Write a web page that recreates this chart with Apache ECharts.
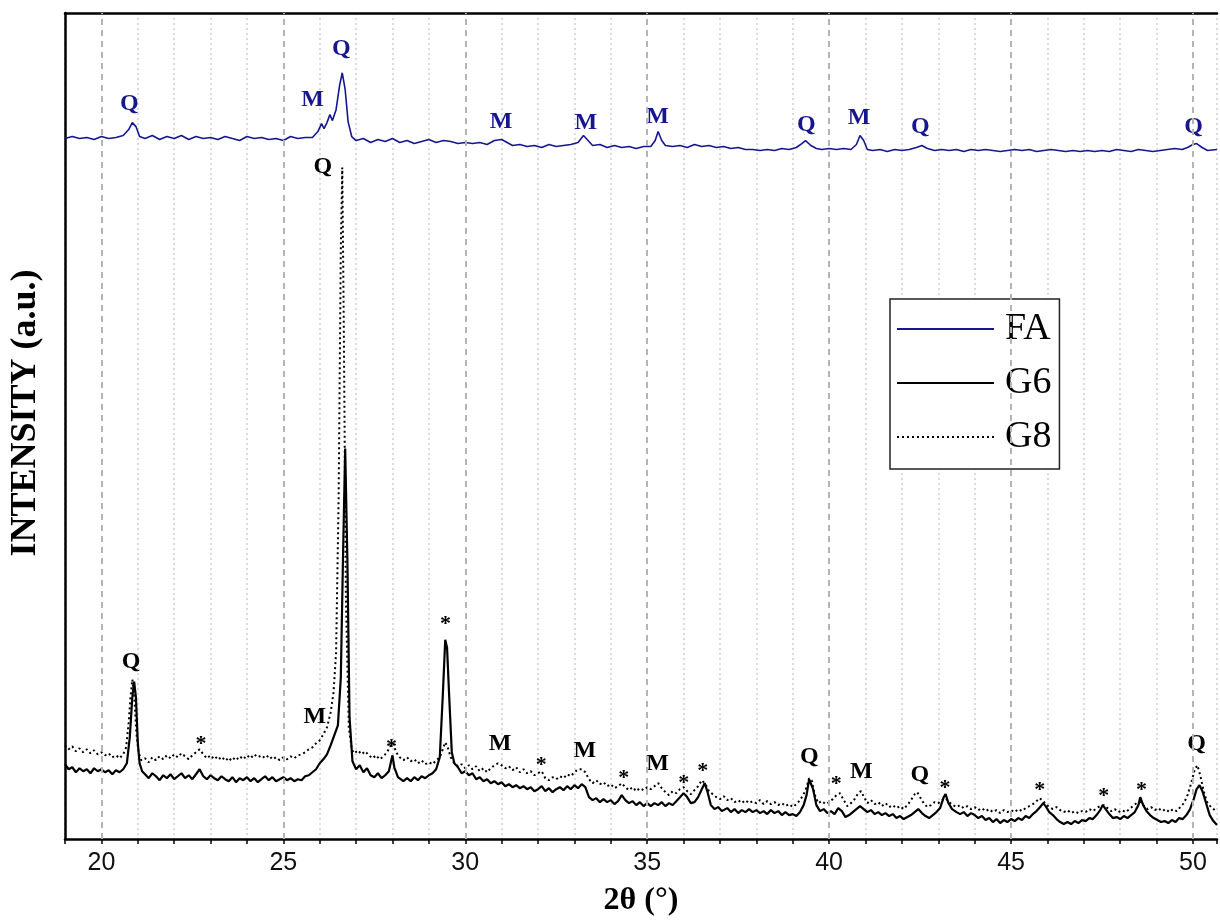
<!DOCTYPE html>
<html>
<head>
<meta charset="utf-8">
<style>
html,body{margin:0;padding:0;background:#fff;}
#chart{width:1220px;height:922px;}
</style>
<script src="https://cdn.jsdelivr.net/npm/echarts@6/dist/echarts.min.js"></script>
</head>
<body>
<div id="chart"></div>
<script>
// ---- Data (2θ in degrees, intensity in arbitrary units) ----
const majorTicks = [20, 25, 30, 35, 40, 45, 50];

const faData = [
[19.0,703],[19.2,705],[19.4,703],[19.6,704],[19.8,702],[20.0,705],[20.2,703],[20.4,704],[20.6,706],
[20.75,712],[20.85,719],[20.95,715],[21.05,705],[21.2,703],[21.4,706],[21.6,702],[21.8,705],[22.0,703],
[22.2,706],[22.4,702],[22.6,705],[22.8,703],[23.0,704],[23.2,702],[23.4,705],[23.6,703],[23.8,701],
[24.0,705],[24.2,703],[24.4,704],[24.6,702],[24.8,703],[25.0,701],[25.2,705],[25.4,703],[25.6,704],
[25.8,704],[25.95,710],[26.05,718],[26.12,713],[26.2,719],[26.28,727],[26.35,721],[26.45,732],
[26.55,757],[26.62,769],[26.7,752],[26.78,720],[26.88,705],[27.0,701],[27.2,703],[27.4,699],[27.6,702],
[27.8,700],[28.0,703],[28.2,699],[28.4,701],[28.6,698],[28.8,700],[29.0,702],[29.2,699],[29.4,701],
[29.6,700],[29.8,698],[30.0,699],[30.2,698],[30.4,699],[30.6,697],[30.8,701],[31.0,702],[31.15,699],
[31.3,696],[31.5,697],[31.7,695],[31.9,696],[32.1,694],[32.3,697],[32.5,695],[32.7,696],[32.9,697],
[33.1,699],[33.25,706],[33.35,702],[33.5,696],[33.7,697],[33.9,694],[34.1,696],[34.3,694],[34.5,695],
[34.7,693],[34.9,695],[35.1,695],[35.22,701],[35.3,710],[35.4,701],[35.5,696],[35.7,695],[35.9,696],
[36.1,694],[36.3,697],[36.5,695],[36.7,696],[36.9,694],[37.1,695],[37.3,693],[37.5,694],[37.7,692],
[37.9,692],[38.1,691],[38.3,692],[38.5,691],[38.7,693],[38.9,692],[39.1,694],[39.25,698],[39.35,701],
[39.5,696],[39.65,693],[39.8,692],[40.0,693],[40.2,692],[40.4,693],[40.6,692],[40.75,697],[40.85,706],
[40.95,701],[41.05,692],[41.2,691],[41.4,692],[41.6,690],[41.8,692],[42.0,691],[42.2,692],[42.4,694],
[42.55,696],[42.7,693],[42.9,691],[43.1,692],[43.3,691],[43.5,692],[43.7,690],[43.9,692],[44.1,691],
[44.3,692],[44.5,691],[44.7,690],[44.9,691],[45.1,692],[45.3,691],[45.5,692],[45.7,690],[45.9,691],
[46.1,692],[46.3,691],[46.5,690],[46.7,691],[46.9,690],[47.1,691],[47.3,690],[47.5,691],[47.7,690],
[47.9,692],[48.1,691],[48.3,690],[48.5,692],[48.7,691],[48.9,690],[49.1,691],[49.3,692],[49.5,693],
[49.7,692],[49.85,694],[50.0,697],[50.1,698],[50.25,694],[50.4,691],[50.66,692]
];

const g6Data = [
[19.0,75],[19.1,70],[19.2,72],[19.3,67],[19.4,71],[19.5,68],[19.6,70],[19.7,66],[19.8,71],[19.9,68],
[20.0,70],[20.1,67],[20.2,69],[20.3,65],[20.4,69],[20.5,67],[20.6,70],[20.7,76],[20.78,102],[20.85,142],
[20.9,158],[20.95,142],[21.0,97],[21.05,76],[21.12,68],[21.2,65],[21.3,61],[21.4,66],[21.5,63],[21.6,59],
[21.7,64],[21.8,61],[21.9,65],[22.0,60],[22.1,63],[22.2,66],[22.3,61],[22.4,64],[22.5,60],[22.6,65],
[22.7,70],[22.8,63],[22.9,60],[23.0,64],[23.1,61],[23.2,59],[23.3,63],[23.4,60],[23.5,58],[23.6,62],
[23.7,57],[23.8,61],[23.9,59],[24.0,62],[24.1,58],[24.2,61],[24.3,57],[24.4,60],[24.5,63],[24.6,59],
[24.7,62],[24.8,58],[24.9,60],[25.0,62],[25.1,59],[25.2,61],[25.3,58],[25.4,60],[25.5,59],[25.6,63],
[25.7,64],[25.8,67],[25.9,70],[26.0,76],[26.1,80],[26.2,85],[26.3,94],[26.4,104],[26.5,114],[26.58,162],
[26.64,282],[26.7,392],[26.76,282],[26.82,122],[26.9,78],[27.0,70],[27.1,74],[27.2,67],[27.3,71],
[27.4,64],[27.5,62],[27.6,66],[27.7,61],[27.8,64],[27.9,68],[28.0,84],[28.05,72],[28.15,62],[28.3,58],
[28.4,61],[28.5,58],[28.6,62],[28.7,59],[28.8,63],[28.9,61],[29.0,64],[29.1,66],[29.2,70],[29.3,82],
[29.38,142],[29.45,200],[29.5,192],[29.56,142],[29.63,87],[29.7,76],[29.8,72],[29.9,66],[30.0,68],
[30.1,64],[30.2,66],[30.3,60],[30.4,62],[30.5,58],[30.6,60],[30.7,56],[30.8,58],[30.9,55],[31.0,57],
[31.1,53],[31.2,55],[31.3,52],[31.4,54],[31.5,51],[31.6,53],[31.7,50],[31.8,52],[31.9,48],[32.0,50],
[32.1,53],[32.2,48],[32.3,51],[32.4,47],[32.5,50],[32.6,52],[32.7,49],[32.8,53],[32.9,50],[33.0,54],
[33.1,51],[33.2,55],[33.3,52],[33.4,42],[33.5,39],[33.6,41],[33.7,37],[33.8,40],[33.9,37],[34.0,39],
[34.1,35],[34.2,38],[34.3,44],[34.4,39],[34.5,36],[34.6,38],[34.7,34],[34.8,37],[34.9,33],[35.0,36],
[35.1,33],[35.2,36],[35.3,34],[35.4,37],[35.5,33],[35.6,36],[35.7,34],[35.8,38],[35.9,42],[36.0,46],
[36.08,43],[36.2,36],[36.3,37],[36.4,42],[36.5,50],[36.58,56],[36.66,47],[36.75,34],[36.85,30],
[36.95,32],[37.05,28],[37.2,31],[37.3,27],[37.4,30],[37.5,26],[37.6,29],[37.7,27],[37.8,30],[37.9,27],
[38.0,29],[38.1,26],[38.2,28],[38.3,25],[38.4,29],[38.5,26],[38.6,28],[38.7,24],[38.8,27],[38.9,24],
[39.0,25],[39.1,23],[39.2,27],[39.3,34],[39.38,44],[39.45,60],[39.5,62],[39.56,50],[39.65,34],
[39.75,28],[39.85,30],[39.95,26],[40.05,28],[40.15,25],[40.25,31],[40.35,28],[40.45,22],[40.55,24],
[40.65,27],[40.75,30],[40.85,33],[40.95,30],[41.05,27],[41.15,29],[41.25,25],[41.35,27],[41.45,24],
[41.55,26],[41.65,23],[41.75,25],[41.85,21],[41.95,23],[42.05,20],[42.15,22],[42.25,24],[42.35,27],
[42.45,30],[42.55,26],[42.65,23],[42.75,21],[42.85,24],[42.95,27],[43.05,31],[43.15,42],[43.2,45],
[43.28,36],[43.38,30],[43.5,27],[43.6,25],[43.7,27],[43.8,23],[43.9,26],[44.0,24],[44.1,21],[44.2,23],
[44.3,19],[44.4,21],[44.5,17],[44.6,20],[44.7,16],[44.8,19],[44.9,17],[45.0,20],[45.1,18],[45.2,21],
[45.3,19],[45.4,23],[45.5,21],[45.6,25],[45.7,28],[45.8,32],[45.88,36],[45.95,33],[46.05,27],[46.15,24],
[46.25,20],[46.35,17],[46.45,15],[46.55,17],[46.65,15],[46.75,18],[46.85,16],[46.95,19],[47.05,18],
[47.15,21],[47.25,20],[47.35,24],[47.45,29],[47.52,34],[47.6,30],[47.7,25],[47.8,21],[47.9,22],
[48.0,20],[48.1,23],[48.2,21],[48.3,24],[48.4,27],[48.5,34],[48.55,42],[48.62,35],[48.72,28],[48.82,24],
[48.92,21],[49.02,19],[49.12,17],[49.22,18],[49.32,16],[49.42,19],[49.52,17],[49.62,21],[49.72,20],
[49.82,24],[49.92,30],[50.02,40],[50.1,50],[50.18,54],[50.26,48],[50.36,36],[50.46,24],[50.56,18],
[50.66,14]
];

const g8Data = [
[19.0,94],[19.1,90],[19.2,93],[19.3,88],[19.4,91],[19.5,87],[19.6,90],[19.7,86],[19.8,89],[19.9,85],
[20.0,87],[20.1,84],[20.2,86],[20.3,82],[20.4,84],[20.5,81],[20.6,85],[20.68,92],[20.75,117],[20.8,142],
[20.85,160],[20.9,147],[20.96,107],[21.02,87],[21.1,79],[21.2,81],[21.3,77],[21.4,82],[21.5,79],
[21.6,83],[21.7,80],[21.8,84],[21.9,81],[22.0,85],[22.1,82],[22.2,86],[22.3,83],[22.4,80],[22.5,84],
[22.6,87],[22.7,90],[22.8,85],[22.9,81],[23.0,84],[23.1,80],[23.2,83],[23.3,79],[23.4,82],[23.5,78],
[23.6,82],[23.7,79],[23.8,83],[23.9,80],[24.0,84],[24.1,81],[24.2,85],[24.3,82],[24.4,84],[24.5,81],
[24.6,84],[24.7,80],[24.8,82],[24.9,79],[25.0,82],[25.1,80],[25.2,83],[25.3,81],[25.4,84],[25.5,85],
[25.6,87],[25.7,90],[25.8,92],[25.9,96],[26.0,99],[26.1,105],[26.2,112],[26.3,127],[26.38,147],
[26.45,187],[26.52,342],[26.58,592],[26.62,674],[26.66,522],[26.72,242],[26.8,112],[26.88,90],
[26.95,86],[27.05,89],[27.15,85],[27.25,88],[27.35,84],[27.45,81],[27.55,84],[27.65,80],[27.75,83],
[27.85,87],[27.95,94],[28.02,96],[28.1,87],[28.2,82],[28.3,79],[28.4,82],[28.5,78],[28.6,80],[28.7,76],
[28.8,79],[28.9,75],[29.0,77],[29.1,75],[29.2,79],[29.3,82],[29.38,90],[29.45,97],[29.52,92],[29.6,82],
[29.7,76],[29.8,73],[29.9,75],[30.0,71],[30.1,74],[30.2,70],[30.3,73],[30.4,68],[30.5,71],[30.6,67],
[30.7,71],[30.8,74],[30.9,76],[31.0,74],[31.1,71],[31.2,73],[31.3,69],[31.4,72],[31.5,67],[31.6,70],
[31.7,66],[31.8,68],[31.9,64],[32.0,66],[32.1,68],[32.2,61],[32.3,59],[32.4,62],[32.5,60],[32.6,63],
[32.7,61],[32.8,65],[32.9,63],[33.0,67],[33.1,70],[33.2,70],[33.3,67],[33.4,60],[33.5,56],[33.6,59],
[33.7,55],[33.8,57],[33.9,53],[34.0,55],[34.1,51],[34.2,53],[34.3,56],[34.4,52],[34.5,49],[34.6,52],
[34.7,48],[34.8,51],[34.9,49],[35.0,52],[35.1,50],[35.2,53],[35.3,56],[35.4,51],[35.5,47],[35.6,44],
[35.7,48],[35.8,46],[35.9,50],[36.0,52],[36.1,48],[36.2,45],[36.3,49],[36.4,53],[36.5,59],[36.6,55],
[36.7,48],[36.8,45],[36.9,42],[37.0,40],[37.1,43],[37.2,39],[37.3,41],[37.4,37],[37.5,39],[37.6,36],
[37.7,39],[37.8,36],[37.9,38],[38.0,36],[38.1,39],[38.2,35],[38.3,38],[38.4,35],[38.5,37],[38.6,34],
[38.7,36],[38.8,33],[38.9,35],[39.0,32],[39.1,35],[39.2,39],[39.3,45],[39.38,52],[39.45,61],[39.52,59],
[39.6,45],[39.7,36],[39.8,38],[39.9,35],[40.0,37],[40.1,40],[40.2,44],[40.3,46],[40.4,39],[40.5,33],
[40.6,36],[40.7,40],[40.8,46],[40.88,48],[40.96,42],[41.05,36],[41.15,39],[41.25,35],[41.35,37],
[41.45,33],[41.55,36],[41.65,32],[41.75,34],[41.85,31],[41.95,33],[42.05,30],[42.15,34],[42.25,39],
[42.35,45],[42.42,47],[42.5,42],[42.6,36],[42.7,32],[42.8,34],[42.9,37],[43.0,36],[43.1,39],[43.2,41],
[43.3,37],[43.4,34],[43.5,32],[43.6,34],[43.7,31],[43.8,33],[43.9,30],[44.0,32],[44.1,29],[44.2,31],
[44.3,28],[44.4,30],[44.5,27],[44.6,29],[44.7,26],[44.8,29],[44.9,27],[45.0,29],[45.1,27],[45.2,30],
[45.3,28],[45.4,31],[45.5,33],[45.6,35],[45.7,38],[45.78,41],[45.86,39],[45.95,35],[46.05,32],
[46.15,30],[46.25,32],[46.35,29],[46.45,27],[46.55,29],[46.65,26],[46.75,28],[46.85,26],[46.95,28],
[47.05,27],[47.15,30],[47.25,28],[47.35,31],[47.45,33],[47.55,34],[47.65,31],[47.75,28],[47.85,30],
[47.95,27],[48.05,29],[48.15,27],[48.25,30],[48.35,33],[48.45,36],[48.55,37],[48.65,33],[48.75,30],
[48.85,32],[48.95,29],[49.05,31],[49.15,28],[49.25,30],[49.35,27],[49.45,30],[49.55,28],[49.65,32],
[49.75,36],[49.85,44],[49.95,56],[50.05,70],[50.12,74],[50.2,64],[50.3,47],[50.4,36],[50.5,32],
[50.66,27]
];

// Phase labels: [2θ, intensity, text]
const faLabels = [
[20.78,737,'Q'],[25.82,741,'M'],[26.61,793,'Q'],[31.0,719,'M'],[33.33,718,'M'],[35.3,724,'M'],
[39.39,716,'Q'],[40.84,723,'M'],[42.52,714,'Q'],[50.03,714,'Q']
];
const gLabels = [
[26.1,674,'Q'],[20.83,177,'Q'],[25.88,122,'M'],[30.97,95,'M'],[33.3,88,'M'],[35.3,75,'M'],
[39.47,82,'Q'],[40.9,67,'M'],[42.51,64,'Q'],[50.11,95,'Q']
];
const starLabels = [
[22.75,100],[27.99,97],[29.47,220],[32.1,78],[34.37,65],[36.02,60],[36.54,72],[40.21,59],
[43.2,55],[45.8,53],[47.56,47],[48.6,53]
];

const X_MIN = 19, X_MAX = 50.66;
const BLUE = '#16168f';
const SERIF = "'Liberation Serif','Times New Roman',serif";

const chart = echarts.init(document.getElementById('chart'), null, {renderer: 'canvas'});

const toLabelItems = arr => arr.map(d => ({value: [d[0], d[1]], name: d[2] || '*'}));

const labelBase = {
  show: true, position: [0, 0], align: 'center', verticalAlign: 'middle',
  formatter: '{b}', fontFamily: SERIF, fontWeight: 'bold',
  textBorderWidth: 0, textShadowBlur: 0, opacity: 1
};

const option = {
  animation: false,
  backgroundColor: '#ffffff',
  grid: {left: 64, right: 0, top: 13, bottom: 80, containLabel: false},
  legend: {
    data: ['FA', 'G6', 'G8'],
    orient: 'vertical',
    left: 890, top: 299,
    padding: [11, 8, 13, 6],
    itemWidth: 97, itemHeight: 14, itemGap: 16,
    borderColor: '#222', borderWidth: 1.5,
    backgroundColor: '#fff',
    itemStyle: {opacity: 0, borderWidth: 0},
    textStyle: {fontFamily: SERIF, fontSize: 38, color: '#000', padding: [0, 0, 0, 6]}
  },
  xAxis: [{
    type: 'value', min: X_MIN, max: X_MAX, interval: 1,
    name: '2θ (°)', nameLocation: 'middle', nameGap: 46,
    nameTextStyle: {fontFamily: SERIF, fontWeight: 'bold', fontSize: 32, color: '#000'},
    axisLine: {show: true, onZero: false, lineStyle: {color: '#000', width: 2.5}},
    axisTick: {show: true, length: 5, lineStyle: {color: '#000', width: 1.5}},
    axisLabel: {
      margin: 12, fontFamily: "'Liberation Sans',Arial,sans-serif", fontSize: 25, color: '#111',
      showMinLabel: true, showMaxLabel: true,
      formatter: v => (Math.abs(v % 5) < 1e-6 ? String(v) : '')
    },
    splitLine: {show: true, lineStyle: {
      color: ['#cfcfcf', 'rgba(0,0,0,0)', '#cfcfcf', '#cfcfcf', '#cfcfcf'],
      width: 1.5, type: [2, 3]}}
  }, {
    type: 'value', min: X_MIN, max: X_MAX, position: 'top',
    axisLine: {show: true, onZero: false, lineStyle: {color: '#000', width: 2.5}},
    axisTick: {show: false}, axisLabel: {show: false}, splitLine: {show: false}
  }],
  yAxis: {
    type: 'value', min: 0, max: 829,
    name: 'INTENSITY (a.u.)', nameLocation: 'middle', nameGap: 21,
    nameTextStyle: {fontFamily: SERIF, fontWeight: 'bold', fontSize: 36, color: '#000', padding: [0, 0, 0, 26]},
    axisLine: {show: true, onZero: false, lineStyle: {color: '#000', width: 2.5}},
    axisTick: {show: false}, axisLabel: {show: false}, splitLine: {show: false}
  },
  series: [
    {
      name: 'G8', type: 'line', data: g8Data, showSymbol: false, symbol: 'none',
      lineStyle: {color: '#000', width: 2, type: [2, 3]}, itemStyle: {color: '#000'},
      markLine: {
        silent: true, symbol: ['none', 'none'], label: {show: false},
        lineStyle: {color: '#b4b4b4', width: 2, type: [6, 5]},
        data: majorTicks.map(v => ({xAxis: v}))
      }
    },
    {
      name: 'G6', type: 'line', data: g6Data, showSymbol: false, symbol: 'none',
      lineStyle: {color: '#000', width: 2.2}, itemStyle: {color: '#000'}
    },
    {
      name: 'FA', type: 'line', data: faData, showSymbol: false, symbol: 'none',
      lineStyle: {color: BLUE, width: 1.6}, itemStyle: {color: BLUE}
    },
    {
      name: 'faLabels', type: 'scatter', data: toLabelItems(faLabels), symbolSize: 1,
      itemStyle: {color: '#fff', opacity: 1}, silent: true,
      label: Object.assign({}, labelBase, {fontSize: 24, color: BLUE})
    },
    {
      name: 'gLabels', type: 'scatter', data: toLabelItems(gLabels), symbolSize: 1,
      itemStyle: {color: '#fff', opacity: 1}, silent: true,
      label: Object.assign({}, labelBase, {fontSize: 24, color: '#000'})
    },
    {
      name: 'stars', type: 'scatter', data: toLabelItems(starLabels), symbolSize: 1,
      itemStyle: {color: '#fff', opacity: 1}, silent: true,
      label: Object.assign({}, labelBase, {fontSize: 22, color: '#000', offset: [0, 5]})
    }
  ]
};
chart.setOption(option);
</script>
</body>
</html>
